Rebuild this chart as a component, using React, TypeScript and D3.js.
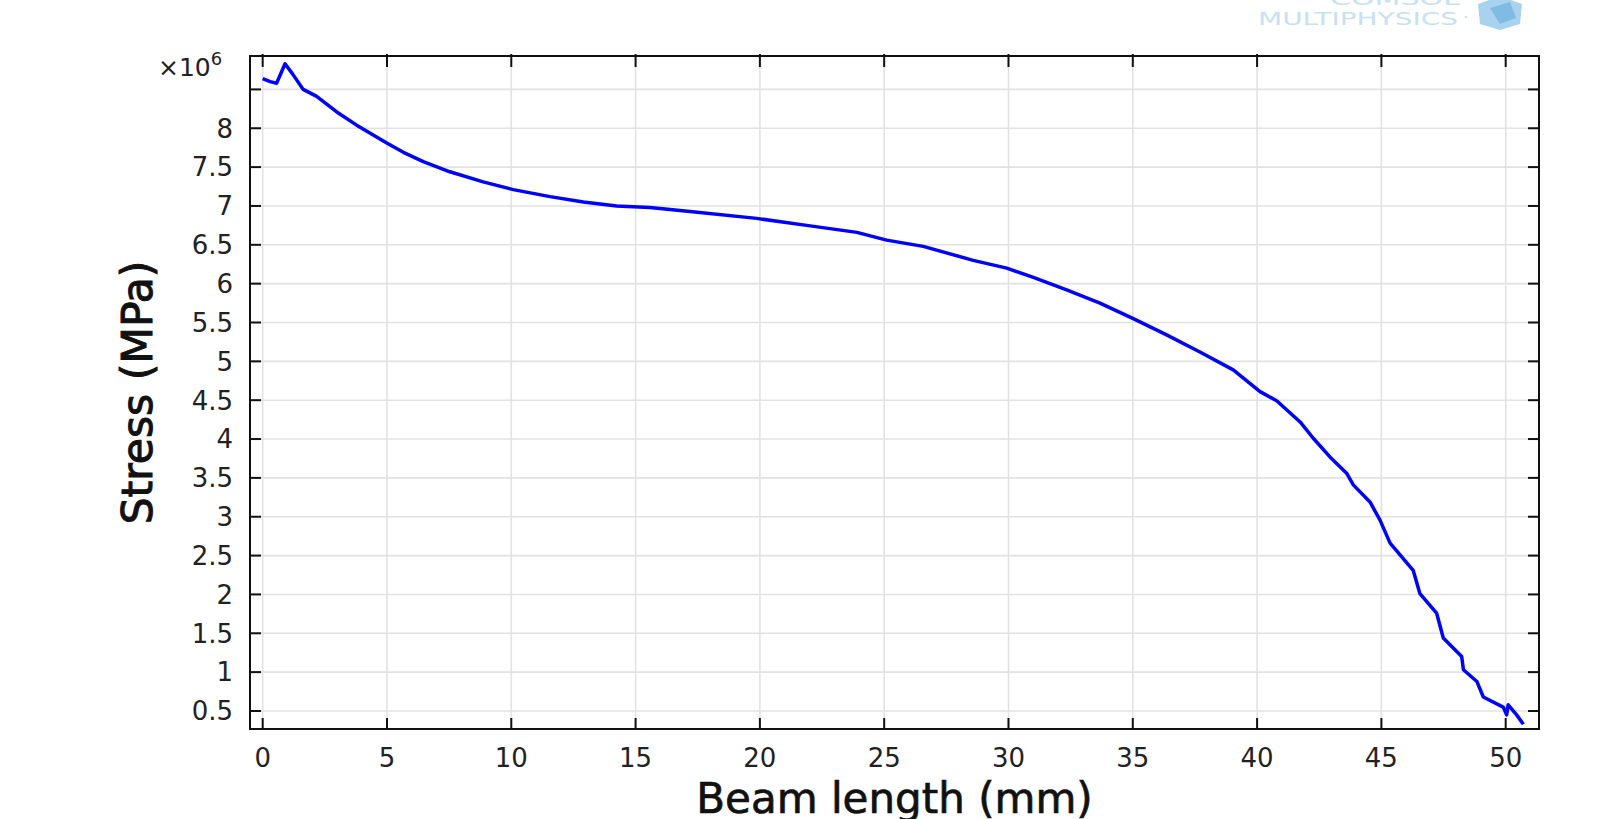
import React from "react";
import * as d3 from "d3";

const beamLength = [0, 0.3, 0.56, 0.9, 1.2, 1.63, 2.17, 2.98, 3.78, 4.99, 5.66, 6.46, 7.53, 8.87, 10.08, 11.56, 12.9, 14.24, 15.58, 17.19, 19.87, 21.88, 23.9, 25.1, 26.57, 28.58, 29.93, 31.0, 32.34, 33.68, 35.02, 36.36, 37.7, 39.04, 40.12, 40.8, 41.73, 42.26, 42.93, 43.6, 43.87, 44.54, 44.94, 45.35, 46.28, 46.55, 47.22, 47.49, 48.23, 48.3, 48.84, 49.1, 49.9, 50.04, 50.1, 50.44, 50.71];
const stress = [8.64, 8.6, 8.58, 8.83, 8.7, 8.5, 8.41, 8.21, 8.04, 7.81, 7.69, 7.57, 7.44, 7.31, 7.21, 7.12, 7.05, 7.0, 6.98, 6.93, 6.84, 6.75, 6.66, 6.56, 6.48, 6.3, 6.2, 6.08, 5.92, 5.75, 5.55, 5.34, 5.12, 4.89, 4.61, 4.49, 4.22, 4.01, 3.77, 3.56, 3.41, 3.19, 2.96, 2.66, 2.31, 2.01, 1.76, 1.44, 1.2, 1.03, 0.88, 0.68, 0.55, 0.45, 0.58, 0.45, 0.33];
const xTicks = [0, 5, 10, 15, 20, 25, 30, 35, 40, 45, 50];
const yTicks = [0.5, 1, 1.5, 2, 2.5, 3, 3.5, 4, 4.5, 5, 5.5, 6, 6.5, 7, 7.5, 8, 8.5];
const yTickLabels = ["0.5", "1", "1.5", "2", "2.5", "3", "3.5", "4", "4.5", "5", "5.5", "6", "6.5", "7", "7.5", "8", ""];
const xTitle = "Beam length (mm)";
const yTitle = "Stress (MPa)";

const W = 1610, H = 819;
const L = 250, R = 1539, T = 56, B = 729;
const FONT = "DejaVu Sans";

export default function App() {
  const x = d3.scaleLinear().domain([-0.51, 51.34]).range([L, R]);
  const y = d3.scaleLinear().domain([0.268, 8.93]).range([B, T]);
  const pts = beamLength.map((b, i) => [b, stress[i]] as [number, number]);
  const line = d3.line<[number, number]>().x(d => x(d[0])).y(d => y(d[1]));
  const tl = 11;
  return (
    <svg width={W} height={H} style={{ position: "absolute", left: 0, top: 0, background: "#fff" }} fontFamily={FONT}>
      <rect x={0} y={0} width={W} height={H} fill="#fff" />
      {/* logo */}
      <g fill="#c6e1f2">
        <text x={1330} y={5} fontSize={18} textLength={130} lengthAdjust="spacingAndGlyphs">COMSOL</text>
        <text x={1258} y={25} fontSize={17} textLength={200} lengthAdjust="spacingAndGlyphs">MULTIPHYSICS</text>
        <circle cx={1466} cy={17} r={1.3} />
        <polygon points="1478,4 1500,-4 1522,4 1520,24 1500,30 1480,24" fill="#a9d2ee" />
        <polygon points="1490,8 1510,2 1516,18 1500,24" fill="#7fbbe3" />
      </g>
      {/* grid */}
      <g stroke="#e2e2e2" strokeWidth={1.6}>
        {xTicks.map(t => <line key={"gx" + t} x1={x(t)} x2={x(t)} y1={T} y2={B} />)}
        {yTicks.map(t => <line key={"gy" + t} x1={L} x2={R} y1={y(t)} y2={y(t)} />)}
      </g>
      {/* data */}
      <path d={line(pts) || ""} fill="none" stroke="#0000ff" strokeWidth={3.5} strokeLinejoin="round" />
      {/* frame */}
      <rect x={L} y={T} width={R - L} height={B - T} fill="none" stroke="#111" strokeWidth={2} />
      <g stroke="#111" strokeWidth={2}>
        {xTicks.map(t => <line key={"bx" + t} x1={x(t)} x2={x(t)} y1={B} y2={B - tl} />)}
        {xTicks.map(t => <line key={"tx" + t} x1={x(t)} x2={x(t)} y1={T - 2} y2={T + tl} />)}
        {yTicks.map(t => <line key={"ly" + t} x1={L} x2={L + tl} y1={y(t)} y2={y(t)} />)}
        {yTicks.map(t => <line key={"ry" + t} x1={R} x2={R - tl} y1={y(t)} y2={y(t)} />)}
      </g>
      {/* tick labels */}
      <g fontSize={26} fill="#222">
        {xTicks.map(t => <text key={"lx" + t} x={x(t)} y={767} textAnchor="middle">{String(t)}</text>)}
        {yTicks.map((t, i) => <text key={"ly" + t} x={233} y={y(t)} dy="0.36em" textAnchor="end">{yTickLabels[i]}</text>)}
        <text x={158} y={76} fontSize={25}>×10<tspan fontSize={18} dy={-11}>6</tspan></text>
      </g>
      {/* titles */}
      <text x={(L + R) / 2} y={813} textAnchor="middle" fontSize={42} fill="#111" stroke="#111" strokeWidth={0.7}>{xTitle}</text>
      <text transform={`translate(152,${(T + B) / 2}) rotate(-90)`} textAnchor="middle" fontSize={42.5} fill="#111" stroke="#111" strokeWidth={1}>{yTitle}</text>
    </svg>
  );
}
